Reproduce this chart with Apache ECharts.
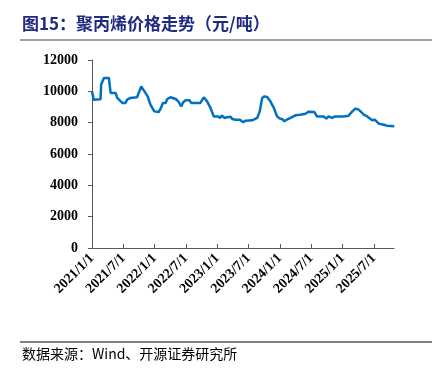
<!DOCTYPE html>
<html>
<head>
<meta charset="utf-8">
<script src="https://cdn.jsdelivr.net/npm/echarts@6/dist/echarts.min.js"></script>
<style>
  html, body { margin: 0; padding: 0; background: #fff; }
  #chart { width: 440px; height: 378px; }
</style>
</head>
<body>
<div id="chart"></div>
<script>
// 聚丙烯价格（元/吨），读图估算
const dates = [
  "2021-01-01", "2021-01-11", "2021-01-20", "2021-02-19", "2021-02-22", "2021-03-10",
  "2021-04-08", "2021-04-18", "2021-05-17", "2021-05-27", "2021-06-25", "2021-07-14",
  "2021-07-24", "2021-08-12", "2021-09-20", "2021-09-30", "2021-10-14", "2021-10-25",
  "2021-11-08", "2021-11-21", "2021-12-07", "2021-12-30", "2022-01-25", "2022-02-07",
  "2022-02-17", "2022-03-04", "2022-03-14", "2022-04-03", "2022-05-02", "2022-05-17",
  "2022-06-04", "2022-06-15", "2022-06-29", "2022-07-22", "2022-08-01", "2022-09-24",
  "2022-10-14", "2022-11-02", "2022-11-22", "2022-12-11", "2022-12-21", "2023-01-05",
  "2023-01-19", "2023-01-28", "2023-02-11", "2023-02-27", "2023-03-18", "2023-03-28",
  "2023-04-16", "2023-05-12", "2023-05-31", "2023-06-14", "2023-07-22", "2023-08-21",
  "2023-09-05", "2023-09-19", "2023-10-02", "2023-10-18", "2023-11-06", "2023-11-26",
  "2023-12-15", "2023-12-31", "2024-01-13", "2024-01-27", "2024-02-11", "2024-03-02",
  "2024-03-31", "2024-04-29", "2024-05-28", "2024-06-17", "2024-07-20", "2024-08-04",
  "2024-09-12", "2024-09-28", "2024-10-11", "2024-10-31", "2024-11-19", "2025-01-07",
  "2025-02-05", "2025-02-25", "2025-03-16", "2025-04-04", "2025-05-03", "2025-05-23",
  "2025-06-21", "2025-07-06", "2025-07-30", "2025-08-28", "2025-09-16", "2025-10-29"
];
const prices = [
  10000, 9470, 9500, 9500, 10430, 10850,
  10850, 9900, 9900, 9580, 9260, 9260,
  9470, 9580, 9620, 9680, 10320, 10320,
  9900, 9680, 9150, 8720, 8680, 8940,
  9260, 9260, 9510, 9620, 9510, 9360,
  9040, 9300, 9430, 9430, 9260, 9260,
  9620, 9360, 8940, 8400, 8340, 8400,
  8300, 8470, 8300, 8340, 8380, 8230,
  8190, 8190, 8020, 8130, 8150, 8300,
  8720, 9580, 9680, 9640, 9360, 8940,
  8400, 8260, 8240, 8090, 8200, 8300,
  8470, 8510, 8570, 8700, 8680, 8400,
  8400, 8260, 8400, 8300, 8400, 8400,
  8440, 8720, 8900, 8830, 8510, 8400,
  8150, 8190, 7940, 7870, 7810, 7770
];
const yTicks = [0, 2000, 4000, 6000, 8000, 10000, 12000];
// 横轴刻度：每半年一个（以 2021/1 起的月数计）
const xTickMonths = [0, 6, 12, 18, 24, 30, 36, 42, 48, 54];

const serif = "'Times New Roman', 'Liberation Serif', serif";
const cjk = "'Noto Sans CJK SC', sans-serif";

// 日期 -> 自 2021/1/1 起的月数（带小数）
function toMonth(s) {
  const [y, m, d] = s.split("-").map(Number);
  const dim = new Date(y, m, 0).getDate();
  return (y - 2021) * 12 + (m - 1) + (d - 1) / dim;
}
function monthLabel(v) {
  const y = 2021 + Math.floor(v / 12);
  const m = (v % 12) + 1;
  return y + "/" + m + "/1";
}

const seriesData = dates.map((d, i) => [toMonth(d), prices[i]]);

const myChart = echarts.init(document.getElementById("chart"), null, { renderer: "canvas" });
myChart.setOption({
  animation: false,
  backgroundColor: "#fff",
  grid: { left: 92, top: 60, right: 46, bottom: 130 },
  xAxis: {
    type: "value",
    min: 0,
    max: 57.85,
    interval: 6,
    splitLine: { show: false },
    axisLine: { lineStyle: { color: "#595959", width: 1 } },
    axisTick: { show: true, inside: true, length: 4, lineStyle: { color: "#595959" }, customValues: xTickMonths },
    axisLabel: {
      customValues: xTickMonths,
      rotate: 45,
      margin: 8,
      color: "#000",
      fontFamily: serif,
      fontWeight: "bold",
      fontSize: 14,
      formatter: monthLabel
    }
  },
  yAxis: {
    type: "value",
    min: yTicks[0],
    max: yTicks[yTicks.length - 1],
    interval: 2000,
    splitLine: { show: false },
    axisLine: { show: true, lineStyle: { color: "#595959", width: 1 } },
    axisTick: { show: true, length: 4, lineStyle: { color: "#595959" } },
    axisLabel: {
      margin: 14,
      color: "#000",
      fontFamily: serif,
      fontWeight: "bold",
      fontSize: 14,
      formatter: (v) => String(v)
    }
  },
  series: [
    {
      type: "line",
      data: seriesData,
      showSymbol: false,
      lineStyle: { color: "#0070c0", width: 2.5 },
      itemStyle: { color: "#0070c0" }
    }
  ],
  graphic: [
    {
      type: "text",
      left: 22,
      top: 15,
      style: { text: "图15：聚丙烯价格走势（元/吨）", font: "bold 17px " + cjk, fill: "#1f2a80" }
    },
    {
      type: "line",
      shape: { x1: 20, y1: 40, x2: 432, y2: 40 },
      style: { stroke: "#7f7f7f", lineWidth: 1.5 }
    },
    {
      type: "line",
      shape: { x1: 20, y1: 342, x2: 432, y2: 342 },
      style: { stroke: "#000", lineWidth: 1 }
    },
    {
      type: "text",
      left: 22,
      top: 347,
      style: { text: "数据来源：Wind、开源证券研究所", font: "14px " + cjk, fill: "#000" }
    }
  ]
});
</script>
</body>
</html>
